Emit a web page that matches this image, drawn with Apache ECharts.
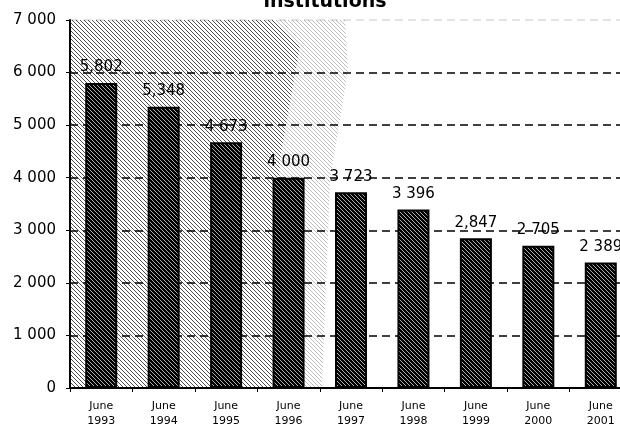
<!DOCTYPE html>
<html>
<head>
<meta charset="utf-8">
<script src="https://cdn.jsdelivr.net/npm/echarts@6/dist/echarts.min.js"></script>
<style>
  html, body { margin: 0; padding: 0; background: #fff; }
  #chart { width: 620px; height: 426px; }
</style>
</head>
<body>
<div id="chart"></div>
<script>
// Number of institutions, June of each year
const categories = ['June\n1993', 'June\n1994', 'June\n1995', 'June\n1996', 'June\n1997',
                    'June\n1998', 'June\n1999', 'June\n2000', 'June\n2001'];
const values = [5802, 5348, 4673, 4000, 3723, 3396, 2847, 2705, 2389];
const valueLabels = ['5,802', '5,348', '4 673', '4 000', '3 723', '3 396', '2,847', '2 705', '2 389'];
const yTicks = [0, 1000, 2000, 3000, 4000, 5000, 6000, 7000];
const titleText = 'institutions';

// Small repeating tile of diagonal "\" hatching
function hatch(bg, fg, size, lw) {
  const c = document.createElement('canvas');
  c.width = c.height = size;
  const g = c.getContext('2d');
  if (bg) { g.fillStyle = bg; g.fillRect(0, 0, size, size); }
  g.strokeStyle = fg;
  g.lineWidth = lw;
  g.beginPath();
  for (let k = -size; k <= size; k += size) {
    g.moveTo(k, 0);
    g.lineTo(k + size, size);
  }
  g.stroke();
  return c;
}

const barPattern = { image: hatch('#000000', '#d8d8d8', 4, 0.8), repeat: 'repeat' };
const bgPattern = { image: hatch(null, '#444444', 4, 1), repeat: 'repeat' };

const fontFamily = '"DejaVu Sans", sans-serif';

const chart = echarts.init(document.getElementById('chart'), null, { renderer: 'canvas' });

chart.setOption({
  animation: false,
  backgroundColor: '#ffffff',
  grid: { left: 70, top: 20, width: 562, bottom: 38, containLabel: false, outerBoundsMode: 'none' },
  graphic: [
    {
      type: 'polygon', z: -10, silent: true,
      shape: { points: [[71, 20], [345, 20], [348, 70], [330, 180], [322, 388], [71, 388]] },
      style: { fill: bgPattern, opacity: 0.35 }
    },
    {
      type: 'polygon', z: -9, silent: true,
      shape: { points: [[71, 20], [275, 20], [300, 45], [280, 160], [272, 388], [71, 388]] },
      style: { fill: bgPattern, opacity: 0.9 }
    },
    {
      type: 'text', z: 10,
      style: {
        text: titleText, x: 325, y: 2,
        textAlign: 'center', textVerticalAlign: 'middle',
        font: 'bold 19px ' + fontFamily, fill: '#000'
      }
    }
  ],
  xAxis: {
    type: 'category',
    data: categories,
    axisLine: { lineStyle: { color: '#000', width: 2 } },
    axisTick: { show: true, length: 4, lineStyle: { color: '#000', width: 1 } },
    axisLabel: {
      color: '#000', fontSize: 11, fontFamily: fontFamily,
      lineHeight: 15, margin: 11, interval: 0
    },
    splitLine: { show: false }
  },
  yAxis: {
    type: 'value',
    min: yTicks[0],
    max: yTicks[yTicks.length - 1],
    interval: 1000,
    axisLine: { show: true, lineStyle: { color: '#000', width: 2 } },
    axisTick: { show: true, length: 4, lineStyle: { color: '#000', width: 1 } },
    axisLabel: {
      color: '#000', fontSize: 15, fontFamily: fontFamily, margin: 14,
      formatter: v => String(v).replace(/\B(?=(\d{3})+(?!\d))/g, ' ')
    },
    splitLine: {
      show: true,
      lineStyle: {
        color: ['#000', '#000', '#000', '#000', '#000', '#000', '#000', 'rgba(0,0,0,0.15)'],
        type: [8, 5], width: 1.5
      }
    }
  },
  series: [{
    type: 'bar',
    data: values,
    barWidth: 32,
    itemStyle: { color: barPattern, borderColor: '#000', borderWidth: 2 },
    label: {
      show: true, position: 'top', distance: 8,
      color: '#000', fontSize: 15, fontFamily: fontFamily,
      formatter: p => valueLabels[p.dataIndex]
    }
  }]
});
</script>
</body>
</html>
